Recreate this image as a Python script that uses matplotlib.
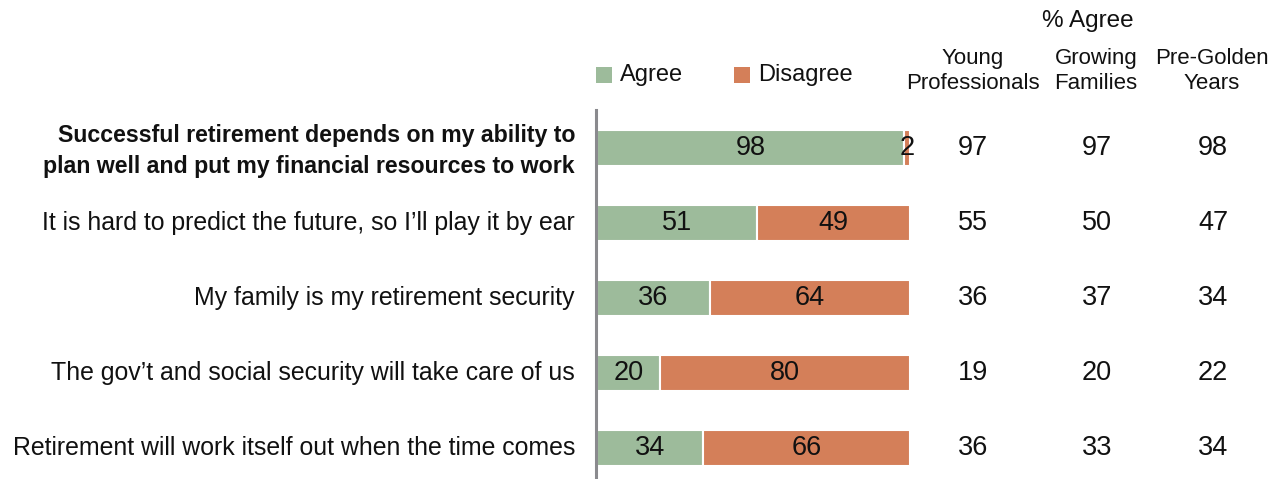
import matplotlib
matplotlib.use("Agg")
import matplotlib.pyplot as plt
from matplotlib.transforms import blended_transform_factory
from matplotlib.patches import Rectangle

plt.rcParams['font.family'] = ['Liberation Sans', 'DejaVu Sans']

statements = [
    "Successful retirement depends on my ability to\nplan well and put my financial resources to work",
    "It is hard to predict the future, so I\u2019ll play it by ear",
    "My family is my retirement security",
    "The gov\u2019t and social security will take care of us",
    "Retirement will work itself out when the time comes",
]
agree = [98, 51, 36, 20, 34]
disagree = [2, 49, 64, 80, 66]

segments = ["Young\nProfessionals", "Growing\nFamilies", "Pre-Golden\nYears"]
young_professionals = [97, 55, 36, 19, 36]
growing_families = [97, 50, 37, 20, 33]
pre_golden_years = [98, 47, 34, 22, 34]

GREEN = "#9dbb9b"
ORANGE = "#d47f59"
INK = "#111111"
W, H = 1276, 479

fig = plt.figure(figsize=(W / 100, H / 100), dpi=100)

# axes spans the 0-100% bar region
x0, x1 = 597, 910
ytop, ybot = 110, 478
ax = fig.add_axes([x0 / W, 1 - ybot / H, (x1 - x0) / W, (ybot - ytop) / H])
ax.set_xlim(0, 100)
row_px = 75.0
n = len(statements)
ax.set_ylim((ybot - 148) / row_px, -(148 - ytop) / row_px)
ax.axis('off')

ypos = list(range(n))
bh = 0.49
ax.barh(ypos, agree, height=bh, color=GREEN, edgecolor='white', linewidth=1.5)
ax.barh(ypos, disagree, left=agree, height=bh, color=ORANGE, edgecolor='white', linewidth=1.5)

num_fs = 19.5
for i in range(n):
    ax.text(agree[i] / 2, i, str(agree[i]), ha='center', va='center', fontsize=num_fs, color=INK)
    ax.text(agree[i] + disagree[i] / 2, i, str(disagree[i]), ha='center', va='center',
            fontsize=num_fs, color=INK)

# vertical baseline
fig.add_artist(plt.Line2D([595.5 / W, 595.5 / W], [1 - 478 / H, 1 - 110 / H],
                          color='#8a8a8e', linewidth=2.2, transform=fig.transFigure))

# statement labels
tr = blended_transform_factory(fig.transFigure, ax.transData)
for i, s in enumerate(statements):
    bold = i == 0
    ax.text(575 / W, i + (0.04 if bold else 0), s, transform=tr, ha='right', va='center',
            fontsize=16.7 if bold else 17.9,
            fontweight='bold' if bold else 'normal', color=INK,
            linespacing=1.42, clip_on=False)

# per-segment % agree columns
col_x = [973, 1097, 1213]
for cx, vals in zip(col_x, [young_professionals, growing_families, pre_golden_years]):
    for i, v in enumerate(vals):
        ax.text(cx / W, i, str(v), transform=tr, ha='center', va='center', fontsize=num_fs,
                color=INK, clip_on=False)

header_x = [973, 1096, 1212]
for hx, h in zip(header_x, segments):
    fig.text(hx / W, 1 - 71 / H, h, ha='center', va='center', fontsize=16,
             color=INK, linespacing=1.25)
fig.text(1088 / W, 1 - 21 / H, "% Agree", ha='center', va='center', fontsize=17.5, color=INK)

# legend
sq = 16
for lx, col, lab in [(596, GREEN, "Agree"), (734, ORANGE, "Disagree")]:
    fig.add_artist(Rectangle((lx / W, 1 - 83 / H), sq / W, sq / H, transform=fig.transFigure,
                             facecolor=col, edgecolor='none'))
    fig.text((lx + 24) / W, 1 - 75 / H, lab, ha='left', va='center', fontsize=17, color=INK)

fig.savefig("out.png", dpi=100)
